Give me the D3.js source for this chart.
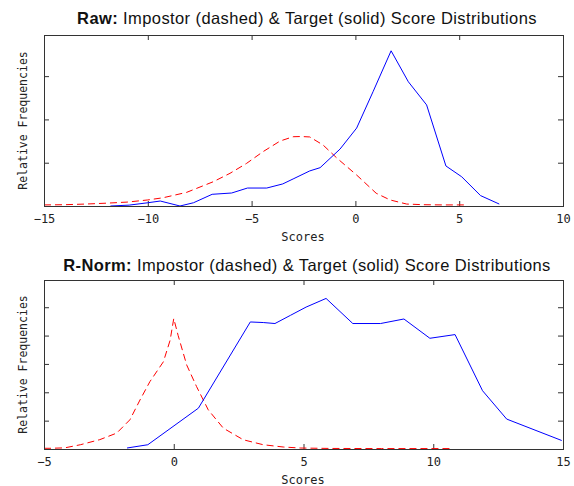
<!DOCTYPE html>
<html lang="en">
<head>
	<title>Score Distributions</title>
	<script src="https://d3js.org/d3.v7.min.js" charset="utf-8"></script>
	<style>
		body { margin: 0; background: white; }
		.tick text { font-family: "DejaVu Sans Mono", monospace; font-size: 12px; fill: #222; }
		.tick line { stroke: #333; }
	</style>
</head>
<body>
	<div id="main"></div>
	<script>

		// Raw scores
		var rawTargetX = [-11.8, -10.9, -10.0, -9.4, -8.45, -7.8, -6.9, -5.96, -5.2, -4.27, -3.5, -3.0, -2.2, -1.7, -0.74, 0.06, 0.85, 1.72, 2.55, 3.43, 4.36, 5.12, 6.03, 6.93]
		var rawTargetY = [0, 0.0004, 0.0015, 0.0023, 0, 0.0015, 0.0054, 0.006, 0.0083, 0.0083, 0.0102, 0.0125, 0.0162, 0.0177, 0.0263, 0.036, 0.0528, 0.0717, 0.0574, 0.0467, 0.0185, 0.0135, 0.0048, 0.0009]
		var rawImpX = [-15, -14, -13, -12, -11, -10, -9.27, -8.13, -6.85, -6.04, -5.24, -4.45, -3.63, -3.0, -2.6, -2.2, -1.56, -0.9, 0.06, 1.0, 1.67, 2.47, 3.27, 4.2, 5.3]
		var rawImpY = [0.0005, 0.0006, 0.0009, 0.0013, 0.0018, 0.0028, 0.0038, 0.0063, 0.0112, 0.0151, 0.0197, 0.0251, 0.030, 0.032, 0.0321, 0.0319, 0.0282, 0.0222, 0.0143, 0.0059, 0.0028, 0.0009, 0.0006, 0.0005, 0.0005]

		// R-Norm scores
		var rnTargetX = [-1.8, -1.0, 0.95, 2.95, 3.45, 3.9, 4.5, 5.1, 5.87, 6.9, 7.97, 8.87, 9.87, 10.84, 11.9, 12.83, 14.95]
		var rnTargetY = [0.0007, 0.003, 0.0288, 0.0896, 0.0892, 0.0885, 0.0943, 0.1001, 0.1062, 0.0885, 0.0885, 0.0917, 0.0781, 0.0807, 0.0411, 0.0211, 0.006]
		var rnImpX = [-5, -4.77, -4.2, -3.6, -2.85, -2.2, -1.69, -1.3, -0.92, -0.4, -0.14, 0, 0.17, 0.5, 0.88, 1.33, 1.91, 2.68, 3.45, 4.22, 4.87, 6, 8, 10.7]
		var rnImpY = [0.0005, 0.0005, 0.0008, 0.003, 0.0066, 0.0112, 0.0206, 0.0346, 0.0475, 0.0615, 0.0767, 0.092, 0.080, 0.0592, 0.044, 0.0276, 0.0147, 0.0065, 0.003, 0.0014, 0.0007, 0.0004, 0.0003, 0.0003]

		var rawXTicks = [-15, -10, -5, 0, 5, 10]
		var rawYTicks = [0.02, 0.04, 0.06]
		var rnXTicks = [-5, 0, 5, 10, 15]
		var rnYTicks = [0.02, 0.04, 0.06, 0.08, 0.10]

		var width = 574
		var height = 486

		var svg = d3.select("#main").append("svg")
			.attr("width", width)
			.attr("height", height);

		function zip(xs, ys) {
			return xs.map(function(x, i) { return [x, ys[i]]; });
		}

		function panel(opts) {
			var x = d3.scaleLinear().domain(opts.xDomain).range([44, 563]);
			var y = d3.scaleLinear().domain(opts.yDomain).range([opts.bottom, opts.top]);
			var g = svg.append("g");

			var line = d3.line()
				.x(function(d) { return x(d[0]); })
				.y(function(d) { return y(d[1]); });

			// ticks pointing inward on all four sides
			g.append("g").attr("transform", "translate(0," + opts.bottom + ")")
				.call(d3.axisBottom(x).tickValues(opts.xTicks).tickSize(-5).tickPadding(8))
				.select(".domain").remove();
			g.append("g").attr("transform", "translate(0," + opts.top + ")")
				.call(d3.axisTop(x).tickValues(opts.xTicks).tickSize(-5).tickFormat(""))
				.select(".domain").remove();
			g.append("g").attr("transform", "translate(44,0)")
				.call(d3.axisLeft(y).tickValues(opts.yTicks).tickSize(-5).tickFormat(""))
				.select(".domain").remove();
			g.append("g").attr("transform", "translate(563,0)")
				.call(d3.axisRight(y).tickValues(opts.yTicks).tickSize(-5).tickFormat(""))
				.select(".domain").remove();

			g.append("path")
				.datum(zip(opts.impX, opts.impY))
				.attr("d", line)
				.attr("fill", "none")
				.attr("stroke", "#ff0000")
				.attr("stroke-width", 1)
				.attr("stroke-dasharray", "7,4");

			g.append("path")
				.datum(zip(opts.tarX, opts.tarY))
				.attr("d", line)
				.attr("fill", "none")
				.attr("stroke", "#0000ff")
				.attr("stroke-width", 1);

			g.append("rect")
				.attr("x", 44.5)
				.attr("y", opts.top + 0.5)
				.attr("width", 519)
				.attr("height", opts.bottom - opts.top)
				.attr("fill", "none")
				.attr("stroke", "#333");

			var title = g.append("text")
				.attr("x", 307)
				.attr("y", opts.titleY)
				.attr("text-anchor", "middle")
				.style("font-family", "Liberation Sans, Arial, sans-serif")
				.style("font-size", "16.5px")
				.style("letter-spacing", "0.4px")
				.attr("fill", "#111");
			title.append("tspan").attr("font-weight", "bold").text(opts.name + ":");
			title.append("tspan").text(" Impostor (dashed) & Target (solid) Score Distributions");

			g.append("text")
				.attr("x", 303)
				.attr("y", opts.bottom + 35)
				.attr("text-anchor", "middle")
				.style("font-family", "DejaVu Sans Mono, monospace")
				.style("font-size", "12px")
				.attr("fill", "#222")
				.text("Scores");

			g.append("text")
				.attr("transform", "translate(27," + ((opts.top + opts.bottom) / 2) + ") rotate(-90)")
				.attr("text-anchor", "middle")
				.style("font-family", "DejaVu Sans Mono, monospace")
				.style("font-size", "11.5px")
				.attr("fill", "#222")
				.text("Relative Frequencies");
		}

		panel({ name: "Raw", top: 35, bottom: 206, titleY: 24, xDomain: [-15, 10], yDomain: [0, 0.079],
			xTicks: rawXTicks, yTicks: rawYTicks,
			impX: rawImpX, impY: rawImpY, tarX: rawTargetX, tarY: rawTargetY });

		panel({ name: "R-Norm", top: 280, bottom: 449, titleY: 271, xDomain: [-5, 15], yDomain: [0, 0.1192],
			xTicks: rnXTicks, yTicks: rnYTicks,
			impX: rnImpX, impY: rnImpY, tarX: rnTargetX, tarY: rnTargetY });

	</script>
</body>
</html>
